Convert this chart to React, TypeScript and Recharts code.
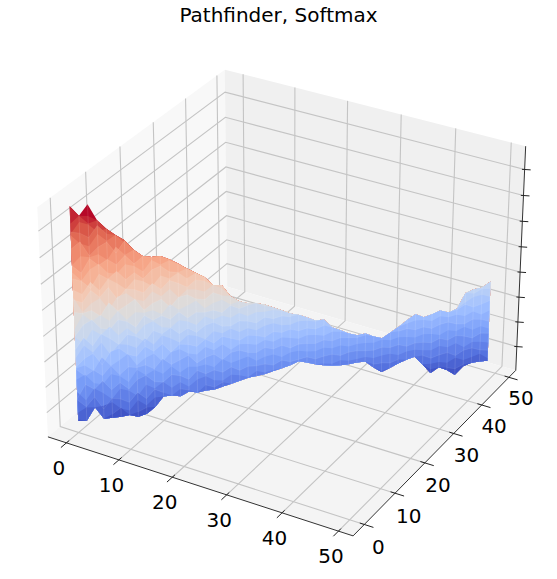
import React from 'react';
import { ComposedChart, Line, Polygon, XAxis, YAxis } from 'recharts';

const WIDTH = 557;
const HEIGHT = 579;

const X_TICKS = [0, 10, 20, 30, 40, 50];
const Y_TICKS = [0, 10, 20, 30, 40, 50];
const Z_TICKS = [0, 1, 2, 3, 4, 5, 6, 7];

// axis limits
const XLIM = [-3.57, 52.57];
const ZLIM = [-0.975, 7.887];

// upper and lower edge of the surface, one value per step along the diagonal
const TOP_EDGE = [
  7.78, 7.38, 7.76, 7.13, 6.77, 6.49, 6.25, 5.85, 5.57, 5.49,
  5.48, 5.31, 5.11, 4.87, 4.67, 4.46, 4.11, 4.06, 3.58, 3.34,
  3.22, 3.17, 3.08, 2.92, 2.76, 2.59, 2.5, 2.34, 2.18, 2.17,
  1.81, 1.65, 1.48, 1.36, 1.39, 1.22, 1.1, 1.29, 1.47, 1.7,
  1.88, 1.72, 1.79, 1.9, 1.77, 1.88, 2.46, 2.56, 2.59, 2.78,
];
const BOTTOM_EDGE = [
  -0.51, -0.55, -0.06, -0.57, -0.58, -0.59, -0.56, -0.68, -0.61, -0.39,
  -0.01, -0.02, -0.1, 0.04, -0.04, -0.01, -0.02, 0.05, 0.12, 0.19,
  0.26, 0.29, 0.32, 0.39, 0.46, 0.53, 0.64, 0.55, 0.43, 0.34,
  0.29, 0.25, 0.24, 0.27, 0.26, -0.02, -0.26, -0.15, -0.01, 0.1,
  0.17, -0.19, -0.59, -0.4, -0.56, -0.8, -0.5, -0.4, -0.4, -0.41,
];

// zigzag of the colour boundaries
const RIPPLE = [
  0.05, -0.22, 0.28, -0.12, 0.08, 0.31, -0.27, 0.02, 0.18, -0.33,
  0.16, 0.27, -0.06, -0.21, 0.22, -0.09, 0.26, -0.29, 0.11, 0.03,
  -0.18, 0.24, -0.13, 0.3, 0.07, -0.24, 0.15, 0.01, -0.31, 0.2,
  -0.04, 0.25, -0.17, 0.09, -0.26, 0.13, 0.29, -0.1, -0.2, 0.17,
  0.04, -0.28, 0.23, -0.07, 0.12, -0.15, 0.21, -0.23, 0.06, -0.02,
];

const LEVELS = [
  -0.8, -0.5, -0.2, 0.1, 0.4, 0.7, 1, 1.3, 1.6, 1.9, 2.2, 2.5, 2.8, 3.1, 3.4, 3.7,
  4, 4.3, 4.6, 4.9, 5.2, 5.5, 5.8, 6.1, 6.4, 6.7, 7, 7.3, 7.6, 7.9,
];
const V_MIN = -0.8;
const V_MAX = 7.8;

const COOLWARM = [
  [59, 76, 192], [89, 119, 227], [123, 159, 249], [158, 190, 255], [192, 212, 245],
  [221, 220, 220], [242, 203, 183], [247, 172, 142], [238, 132, 104], [214, 82, 68], [180, 4, 38],
];

function coolwarm(z: number) {
  const f = Math.max(0, Math.min(0.9999, (z - V_MIN) / (V_MAX - V_MIN))) * 10;
  const i = Math.floor(f);
  const c = COOLWARM[i].map((v, k) => Math.round(v + (COOLWARM[i + 1][k] - v) * (f - i)));
  return `rgb(${c[0]},${c[1]},${c[2]})`;
}

// same view as a default mplot3d axes: elev 30, azim -60, eye at distance 10
const BOX = 1.1429;
const BOX_Z = 0.8572;
const norm = (v: number, lim: number[]) => (v - lim[0]) / (lim[1] - lim[0]) - 0.5;

function project(x: number, y: number, z: number) {
  const a = norm(x, XLIM) * BOX;
  const b = norm(y, XLIM) * BOX;
  const c = norm(z, ZLIM) * BOX_Z;
  const u = 0.866 * a + 0.5 * b;
  const v = -0.25 * a + 0.433 * b + 0.866 * c;
  const d = 0.433 * a - 0.75 * b + 0.5 * c;
  return { px: u / (10 - d), py: v / (10 - d) };
}

const [X0, X1] = XLIM;
const [Z0, Z1] = ZLIM;
const path3 = (pts: number[][]) => pts.map((p) => project(p[0], p[1], p[2]));

const panes = [
  { fill: '#f8f8f8', pts: [[X0, X0, Z0], [X0, X1, Z0], [X0, X1, Z1], [X0, X0, Z1]] },
  { fill: '#f0f0f0', pts: [[X0, X1, Z0], [X1, X1, Z0], [X1, X1, Z1], [X0, X1, Z1]] },
  { fill: '#f4f4f4', pts: [[X0, X0, Z0], [X1, X0, Z0], [X1, X1, Z0], [X0, X1, Z0]] },
];

const gridLines = [
  ...X_TICKS.map((t) => [[t, X0, Z0], [t, X1, Z0], [t, X1, Z1]]),
  ...Y_TICKS.map((t) => [[X1, t, Z0], [X0, t, Z0], [X0, t, Z1]]),
  ...Z_TICKS.map((t) => [[X0, X0, t], [X0, X1, t], [X1, X1, t]]),
];

const axisLines = [
  [[X0, X0, Z0], [X1, X0, Z0]],
  [[X1, X0, Z0], [X1, X1, Z0]],
  [[X1, X1, Z0], [X1, X1, Z1]],
];

const tickMarks = [
  ...X_TICKS.map((t) => [[t, X0 + 0.8, Z0], [t, X0 - 1.6, Z0]]),
  ...Y_TICKS.map((t) => [[X1 - 0.8, t, Z0], [X1 + 1.6, t, Z0]]),
  ...Z_TICKS.map((t) => [[X1 - 0.4, X1 - 0.16, t], [X1 + 0.9, X1 + 0.36, t]]),
];

const xLabels = X_TICKS.map((t) => ({ ...project(t, X0, Z0), label: String(t), dx: -7.5, dy: 24.7 }));
const yLabels = Y_TICKS.map((t) => ({
  ...project(X1, t, Z0),
  label: String(t),
  dx: 14 - t * 0.04,
  dy: 23 - t * 0.04,
}));

const steps = TOP_EDGE.map((_, t) => t);
const LAST = steps.length;

const boundary = (level: number, k: number, t: number) =>
  level + RIPPLE[(t + k * 7) % LAST] * ((TOP_EDGE[t] - BOTTOM_EDGE[t]) / 8);

// painted from the highest colour down, each polygon starts at the lower edge
const bands = LEVELS.slice(1)
  .map((level, k) => {
    const upper = steps.map((t) => {
      const z = k === LEVELS.length - 2 ? TOP_EDGE[t] : boundary(level, k, t);
      return project(t, t, Math.max(BOTTOM_EDGE[t], Math.min(TOP_EDGE[t], z)));
    });
    const lower = steps.map((t) => project(t, t, BOTTOM_EDGE[t])).reverse();
    return { fill: coolwarm((LEVELS[k] + level) / 2), pts: [...upper, ...lower] };
  })
  .reverse();

const seams = steps.map((t) => [project(t, t, BOTTOM_EDGE[t]), project(t, t, TOP_EDGE[t])]);

// pale mesh lines: the parts of every other colour boundary that lie inside the surface
const meshRuns: { px: number; py: number }[][] = [];
LEVELS.slice(1).forEach((level, k) => {
  if (k % 2 === 1) return;
  let run: { px: number; py: number }[] = [];
  steps.forEach((t) => {
    const z = boundary(level, k, t);
    if (z > BOTTOM_EDGE[t] && z < TOP_EDGE[t]) {
      run.push(project(t, t, z));
    } else {
      if (run.length > 1) meshRuns.push(run);
      run = [];
    }
  });
  if (run.length > 1) meshRuns.push(run);
});

// dots are painted above line paths, so every mark goes through the dot layer to keep its order
function polygonDot(fill: string) {
  return (props: any) =>
    props.index === 0 ? (
      <Polygon key="poly" points={props.points} fill={fill} stroke="none" />
    ) : (
      <g key={props.index} />
    );
}

function polylineDot(stroke: string, strokeWidth: number, strokeOpacity = 1) {
  return (props: any) =>
    props.index === 0 ? (
      <polyline
        key="line"
        points={props.points.map((p: any) => `${p.x},${p.y}`).join(' ')}
        fill="none"
        stroke={stroke}
        strokeWidth={strokeWidth}
        strokeOpacity={strokeOpacity}
      />
    ) : (
      <g key={props.index} />
    );
}

function labelDot(props: any) {
  const { cx, cy, payload, index } = props;
  return (
    <text
      key={index}
      x={cx + payload.dx}
      y={cy + payload.dy}
      textAnchor="middle"
      dominantBaseline="central"
      fontFamily="DejaVu Sans"
      fontSize={20}
      fill="#000"
    >
      {payload.label}
    </text>
  );
}

const seriesProps = { dataKey: 'py', stroke: 'none', activeDot: false, isAnimationActive: false };

export default function App() {
  return (
    <div style={{ position: 'absolute', left: 0, top: 0, width: WIDTH, height: HEIGHT, background: '#fff' }}>
      <div
        style={{
          position: 'absolute',
          top: 3,
          width: WIDTH,
          textAlign: 'center',
          fontFamily: 'DejaVu Sans',
          fontSize: 20,
          color: '#000',
        }}
      >
        Pathfinder, Softmax
      </div>
      <ComposedChart width={WIDTH} height={HEIGHT} margin={{ top: 0, right: 0, bottom: 0, left: 0 }}>
        <XAxis hide type="number" dataKey="px" domain={[-286 / 3060, 271 / 3060]} />
        <YAxis hide type="number" dataKey="py" domain={[-287 / 3055, 292 / 3055]} />
        {panes.map((p, i) => (
          <Line key={`pane-${i}`} {...seriesProps} data={path3(p.pts)} dot={polygonDot(p.fill)} />
        ))}
        {gridLines.map((g, i) => (
          <Line key={`grid-${i}`} {...seriesProps} data={path3(g)} dot={polylineDot('#c4c4c4', 1.1)} />
        ))}
        {axisLines.map((g, i) => (
          <Line key={`axis-${i}`} {...seriesProps} data={path3(g)} dot={polylineDot('#333', 1)} />
        ))}
        {tickMarks.map((g, i) => (
          <Line key={`tick-${i}`} {...seriesProps} data={path3(g)} dot={polylineDot('#222', 1)} />
        ))}
        {bands.map((b, i) => (
          <Line key={`band-${i}`} {...seriesProps} data={b.pts} dot={polygonDot(b.fill)} />
        ))}
        {seams.map((s, i) => (
          <Line key={`seam-${i}`} {...seriesProps} data={s} dot={polylineDot('#fff', 0.7, 0.16)} />
        ))}
        {meshRuns.map((r, i) => (
          <Line key={`mesh-${i}`} {...seriesProps} data={r} dot={polylineDot('#fff', 0.6, 0.12)} />
        ))}
        <Line {...seriesProps} data={xLabels} dot={labelDot} />
        <Line {...seriesProps} data={yLabels} dot={labelDot} />
      </ComposedChart>
    </div>
  );
}
